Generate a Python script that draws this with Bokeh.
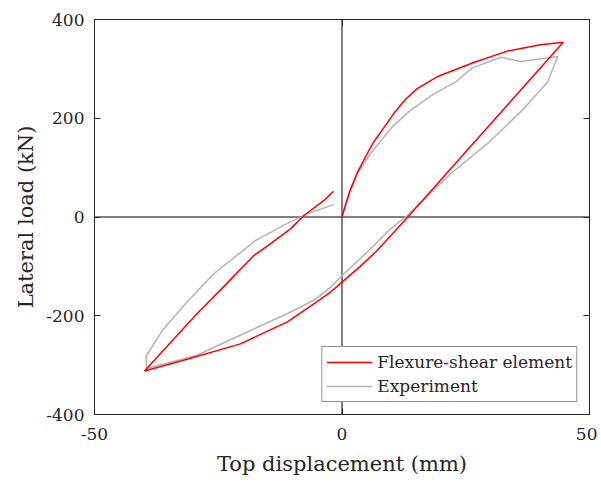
from bokeh.plotting import figure
from bokeh.models import LinearAxis, FixedTicker, Span, Legend, LegendItem, Range1d
from bokeh.embed import file_html
from bokeh.resources import INLINE

# Flexure-shear element (numerical model)
fs_x = [0, 0.8, 1.7, 3.2, 4.7, 6.4, 8.4, 10.5, 12.8, 15.2, 19.2, 26.6, 33.4, 40.1, 44.7,
        13.3, 7.1, 3.7, 0, -2.3, -5.7, -11.1, -14.4, -20.5, -32.0, -39.9,
        -29.3, -23.5, -17.8, -14.4, -10.4, -7.7, -3.7, -1.7]
fs_y = [0, 28, 56, 92, 121, 152, 180, 210, 238, 260, 284, 313, 336, 349, 354,
        0, -68, -100, -132, -152, -176, -213, -228, -257, -290, -312,
        -196, -137, -78, -54, -24, 3, 33, 52]

# Experiment
exp_x = [0, 1.4, 3.1, 5.4, 10.1, 13.8, 18.5, 22.9, 26.3, 32.2, 36.1, 43.6,
         41.5, 36.7, 29.3, 21.9, 13.2, 9.8, 5.1, 0.4, -2.3, -5.4, -11.1, -19.8, -29.3, -39.5,
         -39.6, -36.3, -31.3, -25.9, -17.5, -11.8, -7.0, -1.7]
exp_y = [0, 44, 88, 124, 182, 216, 249, 273, 302, 323.5, 315, 325,
         273, 219, 148, 87, 3, -24, -71, -115, -142, -167, -196, -236, -280, -307,
         -282, -230, -172, -115, -48, -17, 6.5, 25]

x_ticks = [-50, 0, 50]
x_tick_labels = ["-50", "0", "50"]
y_ticks = [-400, -200, 0, 200, 400]
y_tick_labels = ["-400", "-200", "0", "200", "400"]

FONT = "DejaVu Serif"
FRAME = "#262626"

p = figure(width=597, height=478, x_range=Range1d(-50, 50), y_range=Range1d(-400, 400),
           output_backend="svg", toolbar_location=None,
           min_border_left=94, min_border_right=8, min_border_top=19, min_border_bottom=64)
p.grid.visible = False
p.background_fill_color = "white"
p.border_fill_color = "white"
p.outline_line_color = FRAME
p.outline_line_width = 1

def style_axis(ax, ticks, labels, show_labels=True):
    ax.ticker = FixedTicker(ticks=ticks)
    ax.major_tick_in = 6
    ax.major_tick_out = 0
    ax.minor_tick_line_color = None
    ax.axis_line_color = FRAME
    ax.major_tick_line_color = FRAME
    if show_labels:
        ax.major_label_overrides = {t: s for t, s in zip(ticks, labels)}
        ax.major_label_text_font = FONT
        ax.major_label_text_font_size = "17px"
        ax.major_label_text_color = "#262626"
    else:
        ax.major_label_text_font_size = "1px"
        ax.major_label_text_color = None
        ax.major_label_standoff = 0

style_axis(p.xaxis[0], x_ticks, x_tick_labels)
style_axis(p.yaxis[0], y_ticks, y_tick_labels)
p.xaxis[0].major_label_standoff = 13
p.yaxis[0].major_label_standoff = 10

p.xaxis[0].axis_label = "Top displacement (mm)"
p.yaxis[0].axis_label = "Lateral load (kN)"
for ax in (p.xaxis[0], p.yaxis[0]):
    ax.axis_label_text_font = FONT
    ax.axis_label_text_font_size = "21px"
    ax.axis_label_text_font_style = "normal"
    ax.axis_label_text_color = "#262626"
p.xaxis[0].axis_label_standoff = 9
p.yaxis[0].axis_label_standoff = 5

top_ax = LinearAxis()
style_axis(top_ax, x_ticks, x_tick_labels, show_labels=False)
p.add_layout(top_ax, "above")
right_ax = LinearAxis()
style_axis(right_ax, y_ticks, y_tick_labels, show_labels=False)
p.add_layout(right_ax, "right")

p.add_layout(Span(location=0, dimension="height", line_color="black", line_width=1, level="underlay"))
p.add_layout(Span(location=0, dimension="width", line_color="black", line_width=1, level="underlay"))

r_exp = p.line(exp_x, exp_y, line_color="#b3b3b3", line_width=1.5)
r_fs = p.line(fs_x, fs_y, line_color="#ff0000", line_width=1.5)

legend = Legend(items=[LegendItem(label="Flexure-shear element", renderers=[r_fs]),
                       LegendItem(label="Experiment", renderers=[r_exp])],
                location="bottom_right", margin=12, padding=4, spacing=2,
                glyph_width=46, glyph_height=22, label_height=22, label_standoff=5,
                label_text_font=FONT, label_text_font_size="17px", label_text_color="#262626",
                border_line_color="#262626", border_line_width=1,
                background_fill_color="white", background_fill_alpha=1)
p.add_layout(legend)

open("out.html", "w").write(file_html(p, INLINE))
